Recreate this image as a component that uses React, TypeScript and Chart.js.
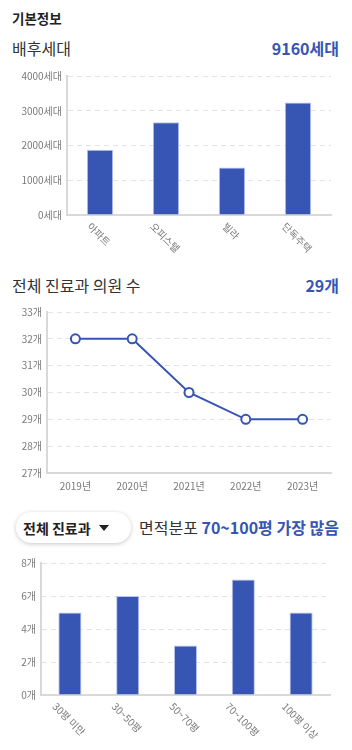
import React, { useEffect, useRef } from "react";
import { Chart, registerables } from "chart.js";

Chart.register(...registerables);

const FONT = '"Noto Sans CJK KR", "Noto Sans", sans-serif';
const BLUE = "#3755b3";
const TICK = "#7a7a7a";
const GRID = "#e3e3e3";
const AXIS = "#d9d9d9";

// 배후세대
const householdLabels = ["아파트", "오피스텔", "빌라", "단독주택"];
const householdValues = [1880, 2670, 1370, 3240];
const householdTicks = [0, 1000, 2000, 3000, 4000];

// 전체 진료과 의원 수
const yearLabels = ["2019년", "2020년", "2021년", "2022년", "2023년"];
const clinicCounts = [32, 32, 30, 29, 29];

// 면적분포
const areaLabels = ["30평 미만", "30~50평", "50~70평", "70~100평", "100평 이상"];
const areaCounts = [5, 6, 3, 7, 5];

const rotatedLabels = (labels: string[]) => ({
  id: "rotatedLabels",
  afterDraw(chart: any) {
    const xs = chart.scales.x;
    const ctx = chart.ctx;
    ctx.save();
    ctx.font = `10px ${FONT}`;
    ctx.fillStyle = TICK;
    labels.forEach((l, i) => {
      const x = xs.getPixelForValue(i);
      const w = ctx.measureText(l).width;
      const h = 10;
      const half = ((w + h) * Math.SQRT1_2) / 2;
      ctx.save();
      ctx.translate(x - 1, xs.top + 6 + half);
      ctx.rotate(Math.PI / 4);
      ctx.textAlign = "center";
      ctx.textBaseline = "middle";
      ctx.fillText(l, 0, 0);
      ctx.restore();
    });
    ctx.restore();
  },
});

function yScale(min: number, max: number, step: number, width: number, suffix: string) {
  return {
    min,
    max,
    afterFit: (s: any) => {
      s.width = width;
    },
    ticks: {
      stepSize: step,
      padding: 5,
      color: TICK,
      font: { size: 10, family: FONT },
      callback: (v: any) => `${v}${suffix}`,
    },
    grid: { color: GRID, lineWidth: 1, drawTicks: false },
    border: { display: true, color: AXIS, width: 2, dash: [5, 4] },
  };
}

function BarChart(props: {
  labels: string[];
  values: number[];
  min: number;
  max: number;
  step: number;
  suffix: string;
  yWidth: number;
  xHeight: number;
  padTop: number;
  padRight: number;
  height: number;
}) {
  const ref = useRef<HTMLCanvasElement>(null);
  useEffect(() => {
    const c = new Chart(ref.current!, {
      type: "bar",
      data: {
        labels: props.labels,
        datasets: [
          {
            data: props.values,
            backgroundColor: BLUE,
            borderColor: "#b9c4ee",
            borderWidth: 1,
            categoryPercentage: 0.8,
            barPercentage: 0.5,
          },
        ],
      },
      options: {
        animation: false,
        responsive: false,
        layout: { padding: { top: props.padTop, right: props.padRight, left: 0, bottom: 0 } },
        plugins: { legend: { display: false }, tooltip: { enabled: false } },
        scales: {
          x: {
            afterFit: (s: any) => {
              s.height = props.xHeight;
            },
            ticks: { display: false },
            grid: { display: false, drawTicks: false },
            border: { display: true, color: AXIS, width: 2 },
          },
          y: yScale(props.min, props.max, props.step, props.yWidth, props.suffix) as any,
        },
      },
      plugins: [rotatedLabels(props.labels)],
    });
    return () => c.destroy();
  }, []);
  return <canvas ref={ref} width={352} height={props.height} style={{ display: "block" }} />;
}

function LineChart() {
  const ref = useRef<HTMLCanvasElement>(null);
  useEffect(() => {
    const c = new Chart(ref.current!, {
      type: "line",
      data: {
        labels: yearLabels,
        datasets: [
          {
            data: clinicCounts,
            borderColor: BLUE,
            borderWidth: 2,
            backgroundColor: "#ffffff",
            pointBackgroundColor: "#ffffff",
            pointBorderColor: BLUE,
            pointBorderWidth: 2,
            pointRadius: 4.5,
            tension: 0,
          },
        ],
      },
      options: {
        animation: false,
        responsive: false,
        layout: { padding: { top: 12, right: 21, left: 0, bottom: 0 } },
        plugins: { legend: { display: false }, tooltip: { enabled: false } },
        scales: {
          x: {
            offset: true,
            afterFit: (s: any) => {
              s.height = 27;
            },
            ticks: { color: TICK, padding: 7, font: { size: 10, family: FONT }, maxRotation: 0 },
            grid: { display: false, drawTicks: false },
            border: { display: true, color: AXIS, width: 2 },
          },
          y: yScale(27, 33, 1, 47, "개") as any,
        },
      },
    });
    return () => c.destroy();
  }, []);
  return <canvas ref={ref} width={352} height={200} style={{ display: "block" }} />;
}

const abs = (top: number, extra: React.CSSProperties = {}): React.CSSProperties => ({
  position: "absolute",
  top,
  whiteSpace: "nowrap",
  lineHeight: "20px",
  fontFamily: FONT,
  ...extra,
});

export default function App() {
  return (
    <div
      style={{
        position: "absolute",
        left: 0,
        top: 0,
        width: 352,
        height: 750,
        background: "#fff",
        fontFamily: FONT,
        overflow: "hidden",
      }}
    >
      <div style={abs(8, { left: 12, fontSize: 13.5, fontWeight: 700, color: "#222" })}>기본정보</div>
      <div style={abs(37.5, { left: 12, fontSize: 16, color: "#333" })}>배후세대</div>
      <div style={abs(37.5, { right: 13, fontSize: 16, fontWeight: 700, color: BLUE })}>9160세대</div>

      <div style={{ position: "absolute", left: 0, top: 60 }}>
        <BarChart
          labels={householdLabels}
          values={householdValues}
          min={householdTicks[0]}
          max={householdTicks[householdTicks.length - 1]}
          step={1000}
          suffix="세대"
          yWidth={67}
          xHeight={50}
          padTop={16}
          padRight={21}
          height={205}
        />
      </div>

      <div style={abs(275, { left: 12, fontSize: 16, color: "#333" })}>전체 진료과 의원 수</div>
      <div style={abs(275, { right: 13, fontSize: 16, fontWeight: 700, color: BLUE })}>29개</div>

      <div style={{ position: "absolute", left: 0, top: 300 }}>
        <LineChart />
      </div>

      <div
        style={{
          position: "absolute",
          left: 16,
          top: 512,
          width: 115,
          height: 31,
          borderRadius: 16,
          background: "#fff",
          boxShadow: "0 1px 4px rgba(0,0,0,0.22)",
          display: "flex",
          alignItems: "center",
          boxSizing: "border-box",
          paddingLeft: 7,
          fontFamily: FONT,
          fontSize: 14,
          fontWeight: 700,
          color: "#222",
        }}
      >
        전체 진료과
        <span
          style={{
            display: "inline-block",
            marginLeft: 8,
            width: 0,
            height: 0,
            borderLeft: "5px solid transparent",
            borderRight: "5px solid transparent",
            borderTop: "6px solid #222",
          }}
        />
      </div>
      <div style={abs(517, { right: 13, fontSize: 16, color: "#333" })}>
        면적분포 <span style={{ color: BLUE, fontWeight: 700 }}>70~100평 가장 많음</span>
      </div>

      <div style={{ position: "absolute", left: 0, top: 550 }}>
        <BarChart
          labels={areaLabels}
          values={areaCounts}
          min={0}
          max={8}
          step={2}
          suffix="개"
          yWidth={41}
          xHeight={55}
          padTop={13}
          padRight={22}
          height={200}
        />
      </div>
    </div>
  );
}
